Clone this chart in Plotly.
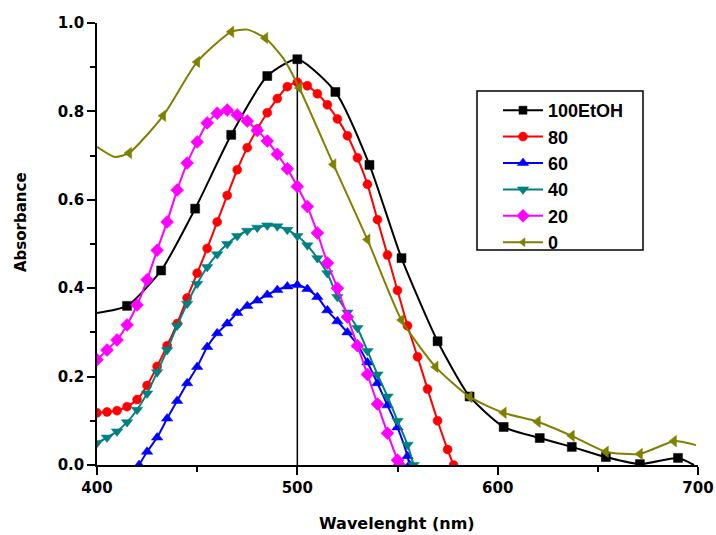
import plotly.graph_objects as go

# ---- data ----
black_x = [400, 415, 432, 449, 467, 485, 500, 519, 536, 552, 570, 586, 603, 621, 637, 654, 671, 690, 698]
black_y = [0.344, 0.36, 0.44, 0.58, 0.747, 0.88, 0.918, 0.844, 0.679, 0.468, 0.28, 0.155, 0.086, 0.061, 0.041, 0.018, 0.002, 0.016, 0.0]
black_mk = [False] + [True] * 17 + [False]

red_x = [400, 405, 410, 415, 420, 425, 430, 435, 440, 445, 450, 455, 460, 465, 470, 475, 480, 485, 490,
         495, 500, 505, 510, 515, 520, 525, 530, 535, 540, 545, 550, 555, 560, 565, 570, 575, 578]
red_y = [0.118, 0.12, 0.123, 0.132, 0.148, 0.18, 0.223, 0.27, 0.32, 0.378, 0.434, 0.49, 0.55, 0.61, 0.668,
         0.718, 0.76, 0.797, 0.829, 0.856, 0.866, 0.858, 0.84, 0.815, 0.783, 0.745, 0.695, 0.635, 0.555,
         0.475, 0.395, 0.315, 0.245, 0.172, 0.1, 0.035, 0.0]

blue_x = [421, 425, 430, 435, 440, 445, 450, 455, 460, 465, 470, 475, 480, 485, 490, 495, 500, 505, 510,
          515, 520, 525, 530, 535, 540, 545, 550, 555, 556]
blue_y = [0.0, 0.03, 0.062, 0.105, 0.145, 0.185, 0.222, 0.267, 0.298, 0.32, 0.344, 0.36, 0.372, 0.385,
          0.396, 0.404, 0.407, 0.398, 0.38, 0.35, 0.325, 0.3, 0.272, 0.232, 0.185, 0.135, 0.085, 0.02, 0.0]

teal_x = [400, 405, 410, 415, 420, 425, 430, 435, 440, 445, 450, 455, 460, 465, 470, 475, 480, 485, 490,
          495, 500, 505, 510, 515, 520, 525, 530, 535, 540, 545, 550, 555, 558]
teal_y = [0.05, 0.062, 0.076, 0.097, 0.125, 0.162, 0.21, 0.26, 0.315, 0.365, 0.41, 0.448, 0.477, 0.5,
          0.518, 0.53, 0.537, 0.542, 0.54, 0.532, 0.518, 0.497, 0.468, 0.434, 0.38, 0.345, 0.31, 0.258,
          0.205, 0.155, 0.1, 0.046, 0.0]

mag_x = [400, 405, 410, 415, 420, 425, 430, 435, 440, 445, 450, 455, 460, 465, 470, 475, 480, 485, 490,
         495, 500, 505, 510, 515, 520, 525, 530, 535, 540, 545, 550, 551]
mag_y = [0.238, 0.26, 0.283, 0.317, 0.362, 0.419, 0.486, 0.55, 0.622, 0.683, 0.731, 0.774, 0.796, 0.803,
         0.792, 0.778, 0.757, 0.733, 0.703, 0.67, 0.63, 0.585, 0.525, 0.457, 0.4, 0.335, 0.27, 0.205,
         0.138, 0.072, 0.011, 0.0]

olive_x = [400, 409, 416, 433, 450, 467, 475, 484, 493, 501, 518, 535, 552, 569, 586, 603, 620, 637, 654,
           671, 688, 699]
olive_y = [0.72, 0.697, 0.706, 0.79, 0.912, 0.98, 0.985, 0.966, 0.92, 0.853, 0.68, 0.51, 0.328, 0.222,
           0.154, 0.118, 0.098, 0.066, 0.03, 0.025, 0.054, 0.045]
olive_mk = [False, False, True, True, True, True, False, True, False, True, True, True, True, True, True,
            True, True, True, True, True, True, False]

series = [
    ("100EtOH", black_x, black_y, black_mk, "#000000", "square", 9),
    ("80", red_x, red_y, None, "#FF0000", "circle", 9),
    ("60", blue_x, blue_y, None, "#0000FF", "triangle-up", 10),
    ("40", teal_x, teal_y, None, "#008080", "triangle-down", 10),
    ("20", mag_x, mag_y, None, "#FF00FF", "diamond", 10),
    ("0", olive_x, olive_y, olive_mk, "#808000", "triangle-left", 10),
]

TICKFONT = "DejaVu Sans, Verdana, sans-serif"
LEGFONT = "Liberation Sans, Arial, sans-serif"

# The page body margin is removed (post_script below), so figure pixels = window pixels.
W, H = 716, 535
# plot area in window pixels: x 97..698, y 23..465
L, T = 97, 23
R = W - 698
B = H - 465
PW, PH = W - L - R, H - T - B


def px_x(px):  # window pixel -> paper x
    return (px - L) / PW


def px_y(py):  # window pixel -> paper y
    return (H - B - py) / PH


fig = go.Figure()
for name, xs, ys, mk, col, sym, sz in series:
    sizes = sz if mk is None else [sz if m else 0 for m in mk]
    fig.add_trace(go.Scatter(
        x=xs, y=ys, name=name, mode="lines+markers",
        line=dict(color=col, width=2, shape="spline", smoothing=0.6),
        marker=dict(color=col, symbol=sym, size=sizes, opacity=1, line=dict(width=0.5, color=col)),
        opacity=1,
    ))

# drop line from the peak of the 100EtOH curve
ip = max(range(len(black_y)), key=lambda i: black_y[i])
fig.add_shape(type="line", xref="x", yref="y", x0=black_x[ip], x1=black_x[ip], y0=0, y1=black_y[ip],
              line=dict(color="black", width=1.5), layer="below")

# legend frame
fig.add_shape(type="rect", xref="paper", yref="paper",
              x0=px_x(477), x1=px_x(643), y0=px_y(250), y1=px_y(91),
              line=dict(color="black", width=1.5), fillcolor="rgba(0,0,0,0)", layer="above")

bold = dict(color="black", weight="bold")
fig.add_annotation(text="Absorbance", xref="paper", yref="paper", x=px_x(21), y=px_y(222),
                   textangle=-90, showarrow=False, xanchor="center", yanchor="middle",
                   font=dict(family=TICKFONT, size=15, **bold))
fig.add_annotation(text="Wavelenght (nm)", xref="paper", yref="paper", x=px_x(397), y=px_y(523),
                   showarrow=False, xanchor="center", yanchor="middle",
                   font=dict(family=TICKFONT, size=16, **bold))

fig.update_layout(
    width=W, height=H,
    margin=dict(l=L, r=R, t=T, b=B),
    paper_bgcolor="white", plot_bgcolor="white",
    font=dict(family=TICKFONT, size=15, color="black"),
    showlegend=True,
    legend=dict(x=px_x(498), y=px_y(92), xanchor="left", yanchor="top",
                borderwidth=0, bgcolor="rgba(255,255,255,0)",
                font=dict(family=LEGFONT, size=18, **bold),
                itemwidth=40),
)
fig.update_xaxes(
    range=[400, 700], tickvals=[400, 500, 600, 700], showgrid=False, zeroline=False, automargin=False,
    showline=True, linecolor="black", linewidth=1.5, ticks="outside", ticklen=8, tickwidth=1.5,
    tickcolor="black", tickfont=dict(family=TICKFONT, size=15, **bold),
    minor=dict(tickvals=[450, 550, 650], ticks="outside", ticklen=5, tickwidth=1.5, tickcolor="black"),
)
fig.update_yaxes(
    range=[0, 1.0], tickvals=[0, 0.2, 0.4, 0.6, 0.8, 1.0], tickformat=".1f", showgrid=False,
    zeroline=False, showline=True, linecolor="black", linewidth=1.5, ticks="outside", ticklen=8,
    tickwidth=1.5, tickcolor="black", automargin=False,
    tickfont=dict(family=TICKFONT, size=15, **bold),
    minor=dict(tickvals=[0.1, 0.3, 0.5, 0.7, 0.9], ticks="outside", ticklen=5, tickwidth=1.5,
               tickcolor="black"),
)

fig.write_html("out.html", config={"displayModeBar": False},
               post_script="document.body.style.margin='0';document.body.style.overflow='hidden';")
